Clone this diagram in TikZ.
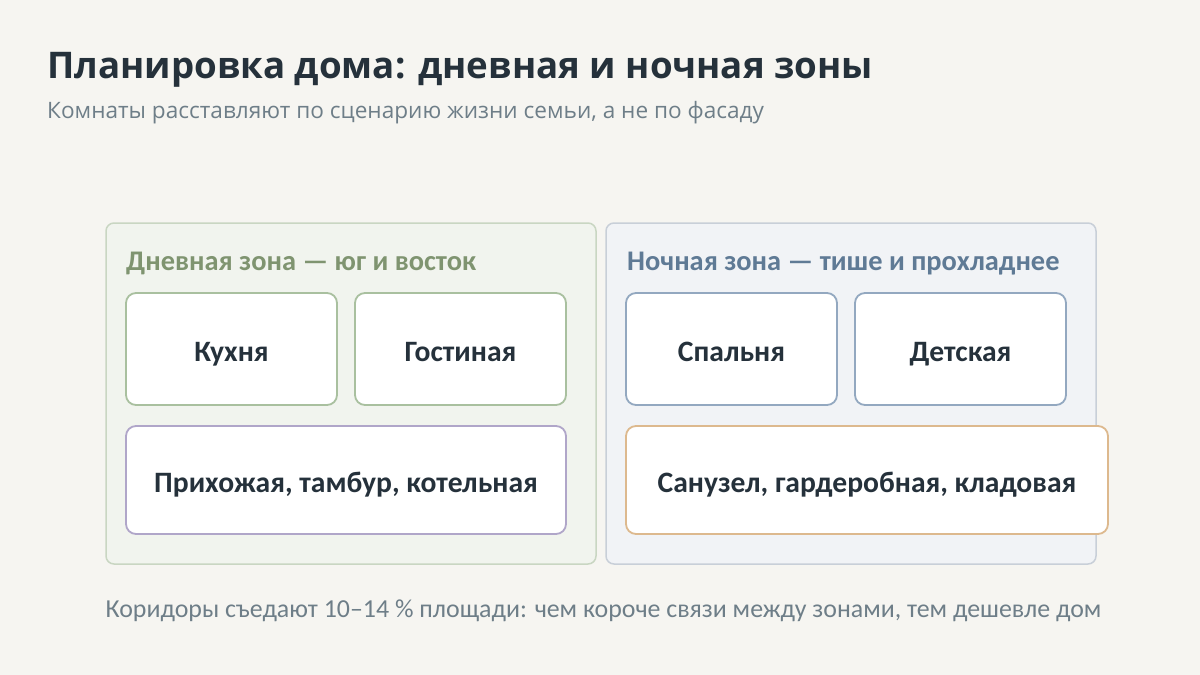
\documentclass[tikz,border=0pt]{standalone}
\usepackage{fontspec}
\setmainfont{Open Sans}
\newfontfamily\cond{Carlito}
\usetikzlibrary{positioning}
\definecolor{bg}{HTML}{F6F5F1}
\definecolor{ink}{HTML}{25313B}
\definecolor{muted}{HTML}{6E7E88}
\definecolor{dayfill}{HTML}{F1F4EE}
\definecolor{dayline}{HTML}{C9D6C2}
\definecolor{daytext}{HTML}{7F9470}
\definecolor{nightfill}{HTML}{F1F3F6}
\definecolor{nightline}{HTML}{C8CFD8}
\definecolor{nighttext}{HTML}{5F7A95}
\definecolor{greenb}{HTML}{A9C09F}
\definecolor{blueb}{HTML}{93A8C0}
\definecolor{purpb}{HTML}{B0A6C9}
\definecolor{sandb}{HTML}{DDB98E}
\tikzset{
  zonebox/.style={draw, line width=1.5pt, rounded corners=8pt},
  roombox/.style={draw, line width=1.8pt, fill=white, rounded corners=10pt, text height=24pt, text depth=0pt, font=\cond\bfseries\fontsize{29.6}{32}\selectfont, text=ink},
  zonelabel/.style={anchor=base west, inner sep=0pt, font=\cond\bfseries\fontsize{28.4}{30}\selectfont},
}
\begin{document}
\begin{tikzpicture}[x=1pt,y=-1pt]
\fill[bg] (0,0) rectangle (1200,675);
\useasboundingbox (0,0) rectangle (1200,675);
\node[anchor=base west, inner sep=0pt, text=ink, font=\bfseries\fontsize{36.7}{40}\selectfont] (title) at (47,78) {Планировка дома: дневная и ночная зоны};
\node[anchor=base west, inner sep=0pt, text=muted, font=\fontsize{22.6}{25}\selectfont] (sub) at (47,118) {Комнаты расставляют по сценарию жизни семьи, а не по фасаду};
% zones
\draw[zonebox, fill=dayfill, draw=dayline] (106,223) rectangle (596,564);
\draw[zonebox, fill=nightfill, draw=nightline] (606,223) rectangle (1096,564);
\node[zonelabel, text=daytext] (dayl) at (126,270) {Дневная зона — юг и восток};
\node[zonelabel, text=nighttext] (nightl) at (627,270) {Ночная зона — тише и прохладнее};
% rooms
\node[roombox, draw=greenb, minimum width=211pt, minimum height=112pt] (kitchen) at (231.5,349) {Кухня};
\node[roombox, draw=greenb, minimum width=211pt, minimum height=112pt] (living) at (460.5,349) {Гостиная};
\node[roombox, draw=purpb, minimum width=440pt, minimum height=108pt] (hall) at (346,480) {Прихожая, тамбур, котельная};
\node[roombox, draw=blueb, minimum width=211pt, minimum height=112pt] (bed) at (731.5,349) {Спальня};
\node[roombox, draw=blueb, minimum width=211pt, minimum height=112pt] (kids) at (960.5,349) {Детская};
\node[roombox, draw=sandb, minimum width=482pt, minimum height=108pt] (bath) at (867,480) {Санузел, гардеробная, кладовая};
\node[anchor=base, inner sep=0pt, text=muted, font=\cond\fontsize{25.9}{30}\selectfont] (foot) at (603.5,617) {Коридоры съедают 10–14 \% площади: чем короче связи между зонами, тем дешевле дом};
\end{tikzpicture}
\end{document}
